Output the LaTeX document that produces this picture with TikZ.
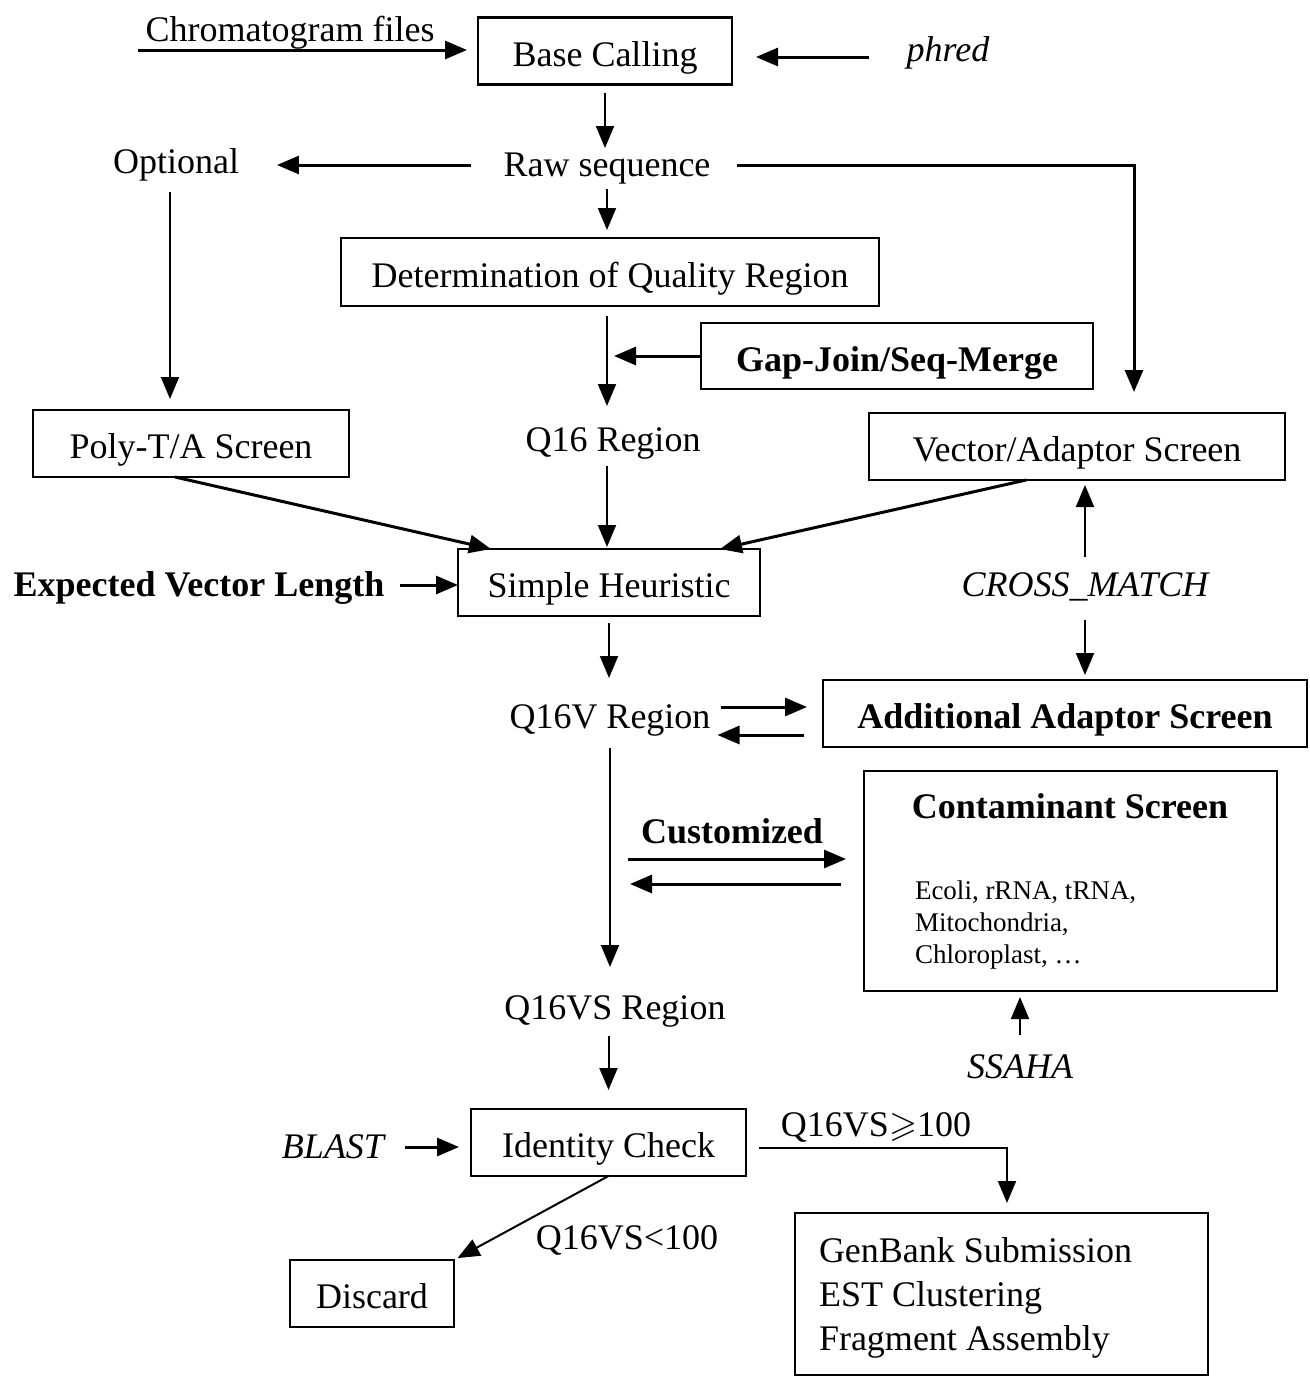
\documentclass[tikz,border=0pt]{standalone}
\usepackage{fontspec}
\setmainfont{Liberation Serif}
\usepackage{amssymb}
\usetikzlibrary{arrows.meta}
\begin{document}
\begin{tikzpicture}[x=0.5pt,y=-0.5pt,
  every node/.style={font=\fontsize{18}{22}\selectfont, inner sep=0pt, outer sep=0pt},
  txt/.style={text height=14pt,text depth=3pt},
  itxt/.style={txt,font=\fontsize{18}{22}\selectfont\itshape},
  btxt/.style={txt,font=\fontsize{18}{22}\selectfont\bfseries},
  box/.style={draw, line width=1.2pt, text height=16pt, text depth=1pt},
  arr/.style={line width=1pt, -{Triangle[length=11pt,width=9pt]}},
  tarr/.style={line width=1.5pt, -{Triangle[length=11pt,width=9pt]}},
]
\useasboundingbox (0,0) rectangle (1310,1377);

% nodes
\node[txt] (chrom) at (290,30) {Chromatogram files};
\coordinate (c0) at (138,50);
\node[box,minimum width=127pt,minimum height=33.5pt] (base) at (605,51) {Base Calling};
\node[itxt] (phred) at (948,50) {phred};
\node[txt] (raw) at (607,165) {Raw sequence};
\node[txt] (opt) at (176,162) {Optional};
\node[box,minimum width=269pt,minimum height=34pt] (det) at (610,272) {Determination of Quality Region};
\node[box,font=\fontsize{18}{22}\selectfont\bfseries,minimum width=196pt,minimum height=33pt] (gap) at (897,356) {Gap-Join/Seq-Merge};
\node[txt] (q16) at (613,440) {Q16 Region};
\node[box,minimum width=158pt,minimum height=33.5pt] (poly) at (191,443.5) {Poly-T/A Screen};
\node[box,minimum width=208pt,minimum height=33.5pt] (vec) at (1077,446.5) {Vector/Adaptor Screen};
\node[box,minimum width=151pt,minimum height=33.5pt] (simple) at (609,582.5) {Simple Heuristic};
\node[btxt] (evl) at (199,585) {Expected Vector Length};
\node[itxt] (cross) at (1085,585) {CROSS\_MATCH};
\node[txt] (q16v) at (610,717) {Q16V Region};
\node[box,font=\fontsize{18}{22}\selectfont\bfseries,minimum width=242pt,minimum height=33.5pt] (add) at (1065,713.5) {Additional Adaptor Screen};
\node[draw,line width=1.2pt,minimum width=206.5pt,minimum height=110pt] (cont) at (1070.5,881) {};
\node[btxt] (conttitle) at (1070,807) {Contaminant Screen};
\node[anchor=west,align=left,font=\fontsize{13.5}{16}\selectfont] (clist) at (915,924.5) {Ecoli, rRNA, tRNA,\\Mitochondria,\\Chloroplast, …};
\node[btxt] (cust) at (732,832) {Customized};
\node[txt] (q16vs) at (615,1008) {Q16VS Region};
\node[itxt] (ssaha) at (1020,1067) {SSAHA};
\node[box,minimum width=137.5pt,minimum height=33.5pt] (ident) at (608.5,1142.5) {Identity Check};
\node[itxt] (blast) at (333,1147) {BLAST};
\node[txt] (ge) at (876,1125) {Q16VS$\geqslant$100};
\node[txt] (lt) at (627,1238) {Q16VS<100};
\node[box,minimum width=82pt,minimum height=33.5pt] (discard) at (372,1293.5) {Discard};
\node[draw,line width=1.2pt,minimum width=206.5pt,minimum height=81pt] (out) at (1001.5,1294) {};
\node[anchor=west,align=left,font=\fontsize{18}{22}\selectfont] (outtext) at (819,1297.5) {GenBank Submission\\EST Clustering\\Fragment Assembly};

% connectors
\draw[tarr, shorten >=5.5pt] (c0) -- (c0 -| base.west);
\draw[tarr, shorten <=19pt, shorten >=12pt] ([yshift=-3.5pt]phred.west) -- ([yshift=-3.5pt]phred.west -| base.east);
\draw[arr, shorten <=4.25pt] (base.south) -- (base.south |- raw.north);
\draw[tarr, shorten <=16.5pt, shorten >=19pt] (raw.west) -- (raw.west -| opt.east);
\draw[tarr, shorten <=13.5pt, shorten >=10.5pt] (raw.east) -| ([xshift=28.5pt]vec.north);
\draw[arr, shorten <=3.5pt, shorten >=4pt] (raw.south) -- (raw.south |- det.north);
\draw[arr, shorten <=6.5pt, shorten >=5.5pt] ([xshift=-3pt]opt.south) -- ([xshift=-3pt]opt.south |- poly.north);
\draw[arr, shorten <=5pt, shorten >=8.5pt] ([xshift=-1.5pt]det.south) -- ([xshift=-1.5pt]det.south |- q16.north);
\draw[tarr, shorten >=3.5pt] (gap.west) -- ([xshift=-1.5pt]gap.west -| det.south);
\draw[tarr] ([xshift=-8pt]poly.south) -- ([xshift=16.5pt]simple.north west);
\draw[arr, shorten <=4.5pt, shorten >=1pt] ([xshift=-3pt]q16.south) -- ([xshift=-3pt]q16.south |- simple.north);
\draw[tarr] ([xshift=-25.5pt]vec.south) -- ([xshift=-20pt]simple.north east);
\draw[tarr, shorten <=8pt] (evl.east) -- (evl.east -| simple.west);
\draw[arr, shorten <=5.5pt, shorten >=2.5pt] (cross.north) -- (cross.north |- vec.south);
\draw[arr, shorten <=9pt, shorten >=2.5pt] (cross.south) -- (cross.south |- add.north);
\draw[arr, shorten <=3.5pt, shorten >=11pt] (simple.south) -- (simple.south |- q16v.north);
\draw[tarr, shorten <=5pt, shorten >=8pt] ([yshift=5pt]q16v.east) -- ([yshift=5pt]q16v.east -| add.west);
\draw[tarr, shorten <=9.5pt, shorten >=3.5pt] ([yshift=-9pt]q16v.east -| add.west) -- ([yshift=-9pt]q16v.east);
\draw[arr, shorten <=7pt, shorten >=12pt] (q16v.south) -- (q16v.south |- q16vs.north);
\draw[tarr, shorten <=9pt, shorten >=9pt] ([yshift=11pt]cont.west -| q16v.south) -- ([yshift=11pt]cont.west);
\draw[tarr, shorten <=11.5pt, shorten >=10pt] ([yshift=-1.5pt]cont.west) -- ([yshift=-1.5pt]cont.west -| q16v.south);
\draw[arr, shorten <=7.5pt, shorten >=3pt] (ssaha.north) -- (ssaha.north |- cont.south);
\draw[arr, shorten <=5.5pt, shorten >=9.5pt] (ident.north |- q16vs.south) -- (ident.north);
\draw[tarr, shorten <=10.5pt, shorten >=6pt] (blast.east) -- (blast.east -| ident.west);
\draw[arr, shorten <=6.5pt, shorten >=5pt] ([yshift=-2.75pt]ident.east) -| ([xshift=2.75pt]out.north);
\draw[arr, shorten >=2pt] (ident.south) -- (discard.north east);
\end{tikzpicture}
\end{document}
